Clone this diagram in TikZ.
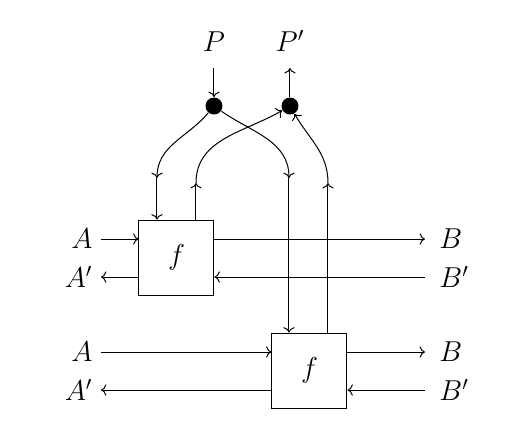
\documentclass[tikz,border=0pt]{standalone}
\usepackage{amsmath,amssymb}
\usepackage{tikz}
\usetikzlibrary{arrows.meta,positioning}
\tikzset{
  fbox/.style={draw,minimum size=37.5pt,inner sep=0pt,font=\Large},
  junction/.style={circle,fill,minimum size=8.5pt,inner sep=0pt},
  leftlbl/.style={anchor=east,inner sep=4pt,font=\Large},
  rightlbl/.style={anchor=west,inner sep=7pt,font=\Large},
  toplbl/.style={anchor=south,inner sep=8pt,font=\Large},
  wire/.style={->},
}
\begin{document}
\begin{tikzpicture}[x=0.5pt,y=-0.5pt,line width=0.5pt]
\useasboundingbox (0,0) rectangle (532,435);
% the two copies of f
\node[fbox] (f1) at (176.5,257.5) {$f$};
\node[fbox] (f2) at (309.5,370.5) {$f$};
% junctions
\node[junction] (jP) at (214,106) {};
\node[junction] (jQ) at (290,106) {};
\node[toplbl] (P) at (214,68) {$P$};
\node[toplbl] (Q) at (290,68) {$P'$};
% side labels
\node[leftlbl] (A1) at (101,239) {$A$};
\node[leftlbl] (A1p) at (101,277) {$A'$};
\node[rightlbl] (B1) at (425,239) {$B$};
\node[rightlbl] (B1p) at (425,277) {$B'$};
\node[leftlbl] (A2) at (101,352) {$A$};
\node[leftlbl] (A2p) at (101,390) {$A'$};
\node[rightlbl] (B2) at (425,352) {$B$};
\node[rightlbl] (B2p) at (425,390) {$B'$};
% mid points of the vertical wires
\coordinate (d1) at (157,178);
\coordinate (u1) at (196,183);
\coordinate (d2) at (289,178);
\coordinate (u2) at (328,183);
% top wires
\draw[wire] (P.south) -- (jP);
\draw[wire] (jQ) -- (Q.south);
\draw[wire] (jP) to[out=-130,in=90] (d1);
\draw[wire] (jP) to[out=-35,in=90] (d2);
\draw[wire] (u1) to[out=90,in=-150] (jQ);
\draw[wire] (u2) to[out=90,in=-60] (jQ);
\draw[wire] (d1) -- (d1 |- f1.north);
\draw[wire] (u1 |- f1.north) -- (u1);
\draw[wire] (d2) -- (d2 |- f2.north);
\draw[wire] (u2 |- f2.north) -- (u2);
% first box
\draw[wire] (A1.east) -- (A1 -| f1.west);
\draw[wire] (A1p -| f1.west) -- (A1p.east);
\draw[wire] (B1 -| f1.east) -- (B1.west);
\draw[wire] (B1p.west) -- (B1p -| f1.east);
% second box
\draw[wire] (A2.east) -- (A2 -| f2.west);
\draw[wire] (A2p -| f2.west) -- (A2p.east);
\draw[wire] (B2 -| f2.east) -- (B2.west);
\draw[wire] (B2p.west) -- (B2p -| f2.east);
\end{tikzpicture}
\end{document}
